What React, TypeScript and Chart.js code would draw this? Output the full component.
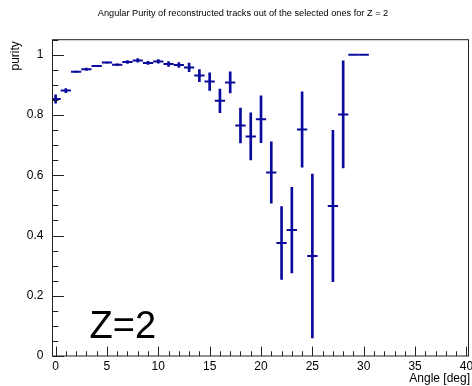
import React, { useEffect, useRef } from 'react';
import { Chart, registerables } from 'chart.js';

Chart.register(...registerables);

// ---- data ----
const angles = [0, 1, 2, 3, 4, 5, 6, 7, 8, 9, 10, 11, 12, 13, 14, 15, 16, 17, 18, 19, 20, 21, 22, 23, 24, 25, 27, 28, 29, 30];
const purity = [0.853, 0.881, 0.944, 0.952, 0.963, 0.974, 0.967, 0.976, 0.981, 0.973, 0.978, 0.969, 0.966, 0.958, 0.931, 0.911, 0.847, 0.908, 0.765, 0.729, 0.786, 0.609, 0.375, 0.418, 0.752, 0.332, 0.498, 0.802, 1.0, 1.0];
const purityErr = [0.014, 0.007, 0.002, 0.004, 0.002, 0.002, 0.003, 0.005, 0.006, 0.005, 0.006, 0.008, 0.008, 0.014, 0.02, 0.029, 0.039, 0.035, 0.058, 0.078, 0.078, 0.102, 0.121, 0.142, 0.125, 0.272, 0.251, 0.178, 0, 0];
const binHalfWidth = 0.5;

const xTickValues = [0, 5, 10, 15, 20, 25, 30, 35, 40];
const xTickLabels = ['0', '5', '10', '15', '20', '25', '30', '35', '40'];
const yTickValues = [0, 0.2, 0.4, 0.6, 0.8, 1];
const yTickLabels = ['0', '0.2', '0.4', '0.6', '0.8', '1'];
const xMinorStep = 1;
const yMinorStep = 0.05;

const titleText = 'Angular Purity of reconstructed tracks out of the selected ones for Z = 2';
const xTitle = 'Angle [deg]';
const yTitle = 'purity';
const annotation = 'Z=2';

const FONT = '"Liberation Sans", Arial, Helvetica, sans-serif';
const DATA_COLOR = '#0a0a9e';

const rootStylePlugin = {
  id: 'rootStyle',
  afterDraw(chart: any) {
    const { ctx, chartArea, scales } = chart;
    const { left, right, top, bottom } = chartArea;
    const xs = scales.x;
    const ys = scales.y;
    ctx.save();
    ctx.strokeStyle = '#222';
    ctx.lineWidth = 1;
    // frame
    ctx.strokeRect(left, top, right - left, bottom - top);
    // x ticks (inside)
    ctx.beginPath();
    const xN = Math.round((xTickValues[xTickValues.length - 1] - xTickValues[0]) / xMinorStep);
    for (let k = 0; k <= xN; k++) {
      const v = xTickValues[0] + k * xMinorStep;
      const px = Math.round(xs.getPixelForValue(v)) + 0.5;
      const major = xTickValues.some((t) => Math.abs(t - v) < 1e-9);
      const len = major ? 9.5 : 4.7;
      ctx.moveTo(px, bottom);
      ctx.lineTo(px, bottom - len);
    }
    // y ticks (inside)
    const yN = Math.floor((ys.max - ys.min) / yMinorStep + 1e-6);
    for (let k = 0; k <= yN; k++) {
      const v = ys.min + k * yMinorStep;
      const py = Math.round(ys.getPixelForValue(v)) + 0.5;
      const major = yTickValues.some((t) => Math.abs(t - v) < 1e-9);
      const len = major ? 11.5 : 5.8;
      ctx.moveTo(left, py);
      ctx.lineTo(left + len, py);
    }
    ctx.stroke();

    ctx.fillStyle = '#000';
    // main title
    ctx.font = `9.2px ${FONT}`;
    ctx.textAlign = 'center';
    ctx.textBaseline = 'middle';
    ctx.fillText(titleText, 243, 13);
    // x title
    ctx.font = `12px ${FONT}`;
    ctx.textAlign = 'right';
    ctx.textBaseline = 'middle';
    ctx.fillText(xTitle, right + 1.5, 379);
    // y title
    ctx.save();
    ctx.translate(15.5, top + 1.5);
    ctx.rotate(-Math.PI / 2);
    ctx.textAlign = 'right';
    ctx.textBaseline = 'middle';
    ctx.fillText(yTitle, 0, 0);
    ctx.restore();
    // annotation
    ctx.font = `38px ${FONT}`;
    ctx.textAlign = 'left';
    ctx.textBaseline = 'alphabetic';
    ctx.fillText(annotation, 89.5, 338);
    ctx.restore();
  },
};

export default function App() {
  const canvasRef = useRef<HTMLCanvasElement | null>(null);

  useEffect(() => {
    const canvas = canvasRef.current;
    if (!canvas) return;
    const errData = angles.map((a, i) => ({ x: a, y: [purity[i] - purityErr[i], purity[i] + purityErr[i]] }));
    const ptData = angles.map((a, i) => ({ x: a, y: purity[i] }));

    const chart = new Chart(canvas, {
      data: {
        datasets: [
          {
            type: 'bar',
            data: errData as any,
            backgroundColor: DATA_COLOR,
            borderWidth: 0,
            barThickness: 2,
            grouped: false,
            clip: 0,
          } as any,
          {
            type: 'scatter',
            data: ptData,
            showLine: false,
            pointStyle: 'line',
            borderColor: DATA_COLOR,
            backgroundColor: DATA_COLOR,
            borderWidth: 2,
            pointBorderWidth: 2,
            pointRadius: (ctx: any) => {
              const s = ctx.chart.scales.x;
              return Math.abs(s.getPixelForValue(binHalfWidth) - s.getPixelForValue(0));
            },
            pointHoverRadius: 0,
            clip: 0,
          } as any,
        ],
      },
      options: {
        responsive: false,
        animation: false,
        devicePixelRatio: 1,
        events: [],
        layout: { padding: { top: 39.7, right: 3.5, bottom: 0, left: 0 } },
        plugins: { legend: { display: false }, tooltip: { enabled: false }, title: { display: false } },
        scales: {
          x: {
            type: 'linear',
            position: 'bottom',
            min: -0.3,
            max: 40.2,
            offset: false,
            grid: { display: false, drawTicks: false },
            border: { display: false },
            afterBuildTicks: (scale: any) => {
              scale.ticks = xTickValues.map((v) => ({ value: v }));
            },
            afterFit: (scale: any) => {
              scale.height = 30;
              scale.paddingLeft = 0;
              scale.paddingRight = 0;
            },
            ticks: {
              autoSkip: false,
              maxRotation: 0,
              padding: 3.5,
              color: '#000',
              font: { family: FONT, size: 12 },
              callback: (_v: any, i: number) => xTickLabels[i],
            },
          },
          y: {
            type: 'linear',
            min: 0,
            max: 1.05,
            grid: { display: false, drawTicks: false },
            border: { display: false },
            afterBuildTicks: (scale: any) => {
              scale.ticks = yTickValues.map((v) => ({ value: v }));
            },
            afterFit: (scale: any) => {
              scale.width = 52.5;
              scale.paddingTop = 0;
              scale.paddingBottom = 0;
            },
            ticks: {
              autoSkip: false,
              padding: 9,
              color: '#000',
              font: { family: FONT, size: 12 },
              callback: (_v: any, i: number) => yTickLabels[i],
            },
          },
        },
      } as any,
      plugins: [rootStylePlugin],
    } as any);
    return () => chart.destroy();
  }, []);

  return (
    <div style={{ position: 'absolute', left: 0, top: 0, width: 472, height: 386, background: '#fff' }}>
      <canvas ref={canvasRef} width={472} height={386} style={{ display: 'block' }} />
    </div>
  );
}
